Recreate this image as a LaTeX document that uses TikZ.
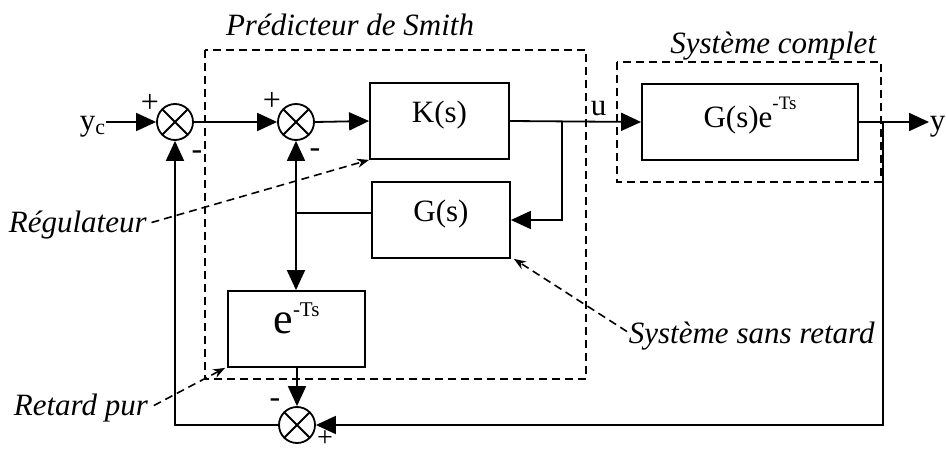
\documentclass[tikz,border=0pt]{standalone}
\usepackage{fontspec}
\setmainfont{Liberation Serif}
\usetikzlibrary{arrows.meta}
\begin{document}
\begin{tikzpicture}[x=1pt,y=-1pt,
  line width=1.8pt,
  arr/.style={-{Triangle[length=20pt,width=18pt]}},
  annot/.style={line width=1.6pt, dash pattern=on 8pt off 5pt, -{Stealth[length=12pt,width=9pt]}},
  dbox/.style={line width=1.8pt, dash pattern=on 8pt off 5pt},
  blk/.style={draw, line width=1.8pt, inner sep=0pt, minimum height=76pt, font=\fontsize{31}{36}\selectfont},
  sumj/.style={draw, circle, line width=1.8pt, minimum size=36pt, inner sep=0pt},
  txt/.style={inner sep=0pt, font=\fontsize{31}{36}\selectfont},
  lab/.style={inner sep=0pt, font=\fontsize{31}{36}\selectfont\itshape},
  sgn/.style={inner sep=0pt, font=\fontsize{32}{34}\selectfont}]
\useasboundingbox (0,0) rectangle (946,452);

% dashed regions
\draw[dbox] (205,50) rectangle (586,379);
\draw[dbox] (617,62) rectangle (881,182);

% blocks
\node[blk, minimum width=139pt, text height=40pt, text depth=36pt] (K) at (439.5,121) {K(s)};
\node[blk, minimum width=138pt, text height=39pt, text depth=37pt] (G) at (441,220) {G(s)};
\node[blk, minimum width=216pt, text height=44pt, text depth=32pt] (GE) at (750,122)
  {G(s)e\raisebox{18pt}{\fontsize{19}{19}\selectfont -Ts}};
\node[blk, minimum width=137pt, text height=42pt, text depth=34pt, font=\fontsize{44}{48}\selectfont] (E) at (296.5,329)
  {e\raisebox{17pt}{\fontsize{21}{21}\selectfont -Ts}};

% summing junctions
\node[sumj] (j1) at (175,122) {};
\node[sumj] (j2) at (296,122) {};
\node[sumj] (j3) at (297,425) {};
\foreach \j in {j1,j2,j3}
  \draw (\j.north west) -- (\j.south east) (\j.north east) -- (\j.south west);

% signal labels
\node[txt, anchor=base east] (yc) at (106,131) {y\raisebox{-3pt}{\fontsize{22}{22}\selectfont c}};
\node[txt, anchor=base west] (yo) at (929,131) {y};
\node[txt, anchor=base west] (u) at (590,115) {u};

% connectors
\coordinate (b1) at (562,122);
\coordinate (b2) at (883,122);
\coordinate (b3) at (296,213);
\draw[arr] (yc.east |- j1) -- (j1.west);
\draw[arr] (j1.east) -- (j2.west);
\draw[arr] (j2.east) -- (K.west);
\draw[arr] (K.east) -- (GE.west);
\draw[arr] (b1) |- (G.east);
\draw[arr] (GE.east) -- (yo.west |- GE.east);
\draw[arr] (b2) |- (j3.east);
\draw[arr] (j3.west) -| (j1.south);
\draw (G.west |- b3) -- (b3);
\draw[arr] (b3) -- (j2.south);
\draw[arr] (b3) -- (b3 |- E.north);
\draw[arr] (E.south -| j3) -- (j3.north);

% signs
\node[sgn] (s1) at (150,103) {+};
\node[sgn] (s2) at (197,155) {-};
\node[sgn] (s3) at (272,101) {+};
\node[sgn] (s4) at (315,153) {-};
\node[sgn] (s5) at (275,403) {-};
\node[sgn, font=\fontsize{28}{30}\selectfont] (s6) at (325,439) {+};

% annotations
\node[lab, anchor=base] (pred) at (350,36) {Prédicteur de Smith};
\node[lab, anchor=base east] (sc) at (877,54) {Système complet};
\node[lab, anchor=base west] (reg) at (8,232) {Régulateur};
\node[lab, anchor=base west] (ssr) at (628,343) {Système sans retard};
\node[lab, anchor=base west] (rp) at (13,415) {Retard pur};
\draw[annot] ([xshift=4pt,yshift=2pt]reg.east) -- (K.south west);
\draw[annot] ([xshift=-1pt,yshift=4pt]ssr.west) -- ([xshift=3pt]G.south east);
\draw[annot] ([xshift=5pt,yshift=2pt]rp.east) -- ([xshift=-2pt]E.south west);
\end{tikzpicture}
\end{document}
